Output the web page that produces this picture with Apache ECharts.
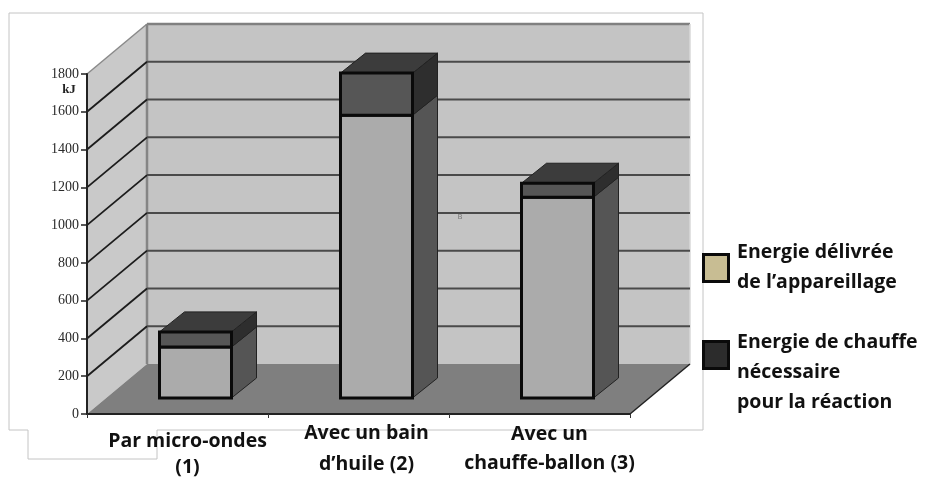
<!DOCTYPE html>
<html><head><meta charset="utf-8">
<script src="https://cdn.jsdelivr.net/npm/echarts@6/dist/echarts.min.js"></script>
<style>html,body{margin:0;padding:0;background:#fff}#c{width:925px;height:477px}</style>
</head><body><div id="c"></div>
<script>
var categories = ['Par micro-ondes\n(1)', 'Avec un bain\nd\u2019huile (2)', 'Avec un\nchauffe-ballon (3)'];
var lowerValues = [270, 1497, 1063];
var upperValues = [80, 223, 74];
var gridValues = [200, 400, 600, 800, 1000, 1200, 1400, 1600];
var legendNames = ['Energie d\u00e9livr\u00e9e\nde l\u2019appareillage', 'Energie de chauffe\nn\u00e9cessaire\npour la r\u00e9action'];
var axisUnit = 'kJ';

var WALL = [60, -50], BAR_OFF = [18, -16], BAR_D = [25, -20], BAR_W = 72;
var FONT = '"Open Sans", sans-serif';
var TEXT_SIZE = 19.5;
var chart = echarts.init(document.getElementById('c'));

function pts(a) { return { points: a }; }
function poly(a, fill, stroke, lw) {
  return { type: 'polygon', shape: pts(a), style: { fill: fill, stroke: stroke || null, lineWidth: lw || 0 } };
}
function seg(a, b, color, lw) {
  return { type: 'line', shape: { x1: a[0], y1: a[1], x2: b[0], y2: b[1] }, style: { stroke: color, lineWidth: lw } };
}
function shift(p, d) { return [p[0] + d[0], p[1] + d[1]]; }

function renderFrame(params, api) {
  var band = api.size([1, 0])[0];
  var L = api.coord([0, 0])[0] - band / 2, R = api.coord([2, 0])[0] + band / 2;
  var y0 = api.coord([0, 0])[1], yT = api.coord([0, 1800])[1];
  var fl = [L, y0], fr = [R, y0], tl = [L, yT], tr = [R, yT];
  var bfl = shift(fl, WALL), bfr = shift(fr, WALL), btl = shift(tl, WALL), btr = shift(tr, WALL);
  return { type: 'group', children: [
    poly([bfl, btl, btr, bfr], '#c4c4c4'),
    poly([fl, tl, btl, bfl], '#c9c9c9'),
    poly([fl, bfl, bfr, fr], '#7f7f7f'),
    seg(tl, btl, '#8a8a8a', 1.5),
    seg(btl, btr, '#808080', 2.5),
    seg(btl, bfl, '#858585', 2.5),
    seg(btr, bfr, '#d8d8d8', 1.5),
    seg(fr, bfr, '#222', 1.5)
  ] };
}
function renderGrid(params, api) {
  var band = api.size([1, 0])[0];
  var L = api.coord([0, 0])[0] - band / 2, R = api.coord([2, 0])[0] + band / 2;
  var y = api.coord([0, api.value(0)])[1];
  var a = [L, y], b = shift(a, WALL), c = shift([R, y], WALL);
  return { type: 'group', children: [seg(a, b, '#1c1c1c', 1.8), seg(b, c, '#4a4a4a', 2)] };
}
function renderBar(fillFront, fillSide, fillTop) {
  return function (params, api) {
    var cx = api.coord([api.value(0), 0])[0] + BAR_OFF[0];
    var x1 = cx - BAR_W / 2, x2 = cx + BAR_W / 2;
    var yb = api.coord([0, api.value(1)])[1] + BAR_OFF[1];
    var yt = api.coord([0, api.value(2)])[1] + BAR_OFF[1];
    var kids = [
      poly([[x2, yb], [x2, yt], shift([x2, yt], BAR_D), shift([x2, yb], BAR_D)], fillSide, '#222', 1)
    ];
    if (fillTop) kids.push(poly([[x1, yt], [x2, yt], shift([x2, yt], BAR_D), shift([x1, yt], BAR_D)], fillTop, '#222', 1));
    kids.push({ type: 'rect', shape: { x: x1, y: yt, width: BAR_W, height: yb - yt },
      style: { fill: fillFront, stroke: '#0a0a0a', lineWidth: 3 } });
    return { type: 'group', children: kids };
  };
}
var labelOffset = [[10, 27], [8, 19], [10, 20]];
var labelLine = [26, 31, 29];
function renderLabels(params, api) {
  var i = params.dataIndex;
  var p = api.coord([i, 0]);
  return { type: 'group', children: categories[i].split('\n').map(function (t, k) {
    return { type: 'text', style: {
      x: p[0] + labelOffset[i][0], y: p[1] + labelOffset[i][1] + k * labelLine[i], text: t,
      font: 'bold ' + TEXT_SIZE + 'px ' + FONT, fill: '#111', align: 'center', verticalAlign: 'middle' } };
  }) };
}

var custom = { type: 'custom', coordinateSystem: 'cartesian2d', clip: false, silent: true };
function S(o) { return Object.assign({}, custom, o); }

chart.setOption({
  animation: false,
  backgroundColor: '#fff',
  grid: { left: 87, right: 295, top: 74, bottom: 63 },
  xAxis: { type: 'category', data: categories, z: 5,
    axisLabel: { show: false },
    axisLine: { lineStyle: { color: '#222', width: 2 } },
    axisTick: { show: true, length: 4, lineStyle: { color: '#333', width: 1 } } },
  yAxis: { type: 'value', min: 0, max: 1800, interval: 200, z: 5,
    splitLine: { show: false },
    axisLine: { show: true, lineStyle: { color: '#222', width: 2 } },
    axisTick: { show: true, length: 6, lineStyle: { color: '#222', width: 1.5 } },
    axisLabel: { fontFamily: '"Liberation Serif", serif', fontSize: 14, color: '#2a2a2a', margin: 8,
      formatter: function (v) { return String(v); } } },
  series: [
    S({ z: 1, data: [0], renderItem: renderFrame, encode: { y: 0 } }),
    S({ z: 2, data: gridValues, renderItem: renderGrid, encode: { y: 0 } }),
    S({ z: 3, name: legendNames[0], data: lowerValues.map(function (v, i) { return [i, 0, v]; }),
        encode: { x: 0, y: [1, 2] }, renderItem: renderBar('#ababab', '#555555', null) }),
    S({ z: 4, name: legendNames[1], data: upperValues.map(function (v, i) { return [i, lowerValues[i], lowerValues[i] + v]; }),
        encode: { x: 0, y: [1, 2] }, renderItem: renderBar('#565656', '#2e2e2e', '#3c3c3c') }),
    S({ z: 6, data: categories.map(function (c, i) { return [i, 0]; }), encode: { x: 0, y: 1 }, renderItem: renderLabels })
  ],
  graphic: [
    { type: 'polyline', z: 0, shape: { points: [[28, 430], [9, 430], [9, 13], [703, 13], [703, 430], [157, 430], [157, 459], [28, 459], [28, 430]] },
      style: { fill: null, stroke: '#c4c4c4', lineWidth: 1 } },
    { type: 'text', z: 10, style: { x: 69, y: 90, text: axisUnit, font: 'bold 13px "Liberation Serif", serif', fill: '#222', align: 'center', verticalAlign: 'middle' } },
    { type: 'text', z: 10, style: { x: 460, y: 217, text: 'B', font: '7px "Liberation Sans", sans-serif', fill: '#777', align: 'center', verticalAlign: 'middle' } },
    { type: 'rect', z: 10, shape: { x: 703.5, y: 254.5, width: 25, height: 27 }, style: { fill: '#c8bd93', stroke: '#0a0a0a', lineWidth: 3 } },
    { type: 'rect', z: 10, shape: { x: 703.5, y: 341.5, width: 25, height: 27 }, style: { fill: '#2c2c2c', stroke: '#0a0a0a', lineWidth: 3 } },
    { type: 'text', z: 10, style: { x: 737, y: 237, text: legendNames[0], font: 'bold ' + TEXT_SIZE + 'px ' + FONT, lineHeight: 30, fill: '#111', align: 'left', verticalAlign: 'top' } },
    { type: 'text', z: 10, style: { x: 737, y: 327, text: legendNames[1], font: 'bold ' + TEXT_SIZE + 'px ' + FONT, lineHeight: 30, fill: '#111', align: 'left', verticalAlign: 'top' } }
  ]
});
</script></body></html>
